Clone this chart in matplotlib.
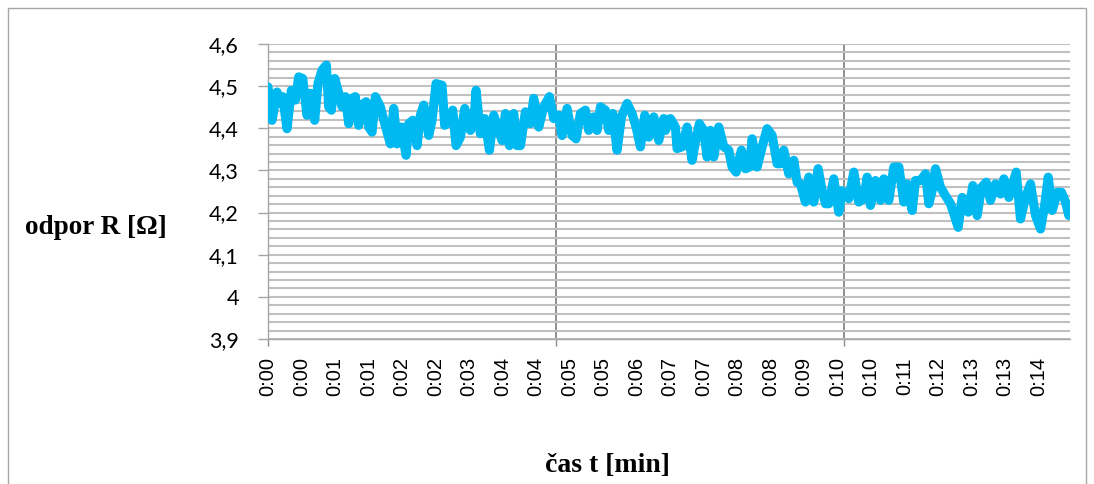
import matplotlib
matplotlib.use("Agg")
import matplotlib.pyplot as plt
import numpy as np
from matplotlib.patches import Rectangle

# ---------------- data ----------------
time_min = [
    0.000, 0.070, 0.156, 0.214, 0.255, 0.330, 0.405, 0.475, 0.533, 0.602,
    0.677, 0.735, 0.810, 0.868, 0.938, 1.013, 1.053, 1.100, 1.158, 1.215,
    1.285, 1.343, 1.401, 1.459, 1.516, 1.574, 1.632, 1.702, 1.748, 1.806,
    1.864, 1.950, 2.026, 2.124, 2.182, 2.240, 2.315, 2.396, 2.442, 2.512,
    2.587, 2.645, 2.703, 2.790, 2.847, 2.917, 3.021, 3.067, 3.137, 3.206,
    3.264, 3.339, 3.415,
    3.513, 3.571, 3.611, 3.686, 3.762, 3.843, 3.918, 4.005, 4.062, 4.120,
    4.190, 4.265, 4.323, 4.381, 4.468, 4.554, 4.612, 4.699, 4.786, 4.884,
    4.959, 5.046, 5.104, 5.191, 5.278, 5.347, 5.422, 5.509, 5.567, 5.654,
    5.712, 5.770, 5.856, 5.914, 5.984, 6.059, 6.134, 6.233, 6.319, 6.389,
    6.464, 6.539, 6.609, 6.696, 6.782, 6.869,
    6.898, 6.985, 7.071, 7.100, 7.187, 7.274, 7.361, 7.419, 7.488, 7.563,
    7.621, 7.679, 7.737, 7.824, 7.911, 7.997, 8.055, 8.125, 8.217, 8.287,
    8.356, 8.403, 8.489, 8.576, 8.663, 8.750, 8.837, 8.894, 8.952, 9.039,
    9.126, 9.184, 9.242, 9.328, 9.386, 9.473, 9.548, 9.618, 9.676, 9.734,
    9.820, 9.907, 9.965, 10.081, 10.168, 10.254, 10.341,
    10.399, 10.457, 10.544, 10.631, 10.689, 10.775, 10.862, 10.949, 11.036, 11.094,
    11.181, 11.238, 11.325, 11.412, 11.470, 11.528, 11.586, 11.672, 11.759, 11.846,
    11.904, 11.979, 12.049, 12.153, 12.234, 12.309, 12.384, 12.465, 12.540, 12.627,
    12.714, 12.772, 12.859, 12.986, 13.061, 13.148, 13.235, 13.322, 13.409, 13.484,
    13.542, 13.611, 13.698, 13.773, 13.843, 13.900,
]

resistance = [
    4.498, 4.419, 4.486, 4.459, 4.475, 4.399, 4.490, 4.467, 4.522, 4.518,
    4.431, 4.483, 4.419, 4.506, 4.538, 4.550, 4.451, 4.443, 4.518, 4.490,
    4.451, 4.475, 4.411, 4.471, 4.475, 4.407, 4.455, 4.463, 4.403, 4.391,
    4.475, 4.451, 4.411, 4.363, 4.447, 4.363, 4.403, 4.336, 4.411, 4.419,
    4.359, 4.431, 4.455, 4.383, 4.419, 4.506, 4.502, 4.407, 4.415, 4.443,
    4.359, 4.379, 4.447,
    4.395, 4.411, 4.490, 4.387, 4.423, 4.348, 4.431, 4.395, 4.371, 4.435,
    4.359, 4.435, 4.359, 4.359, 4.439, 4.411, 4.471, 4.403, 4.451, 4.475,
    4.423, 4.431, 4.383, 4.447, 4.383, 4.375, 4.435, 4.443, 4.395, 4.427,
    4.395, 4.451, 4.443, 4.395, 4.435, 4.348, 4.427, 4.459, 4.435, 4.403,
    4.356, 4.431, 4.379, 4.427, 4.371, 4.423,
    4.395, 4.423, 4.403, 4.352, 4.356, 4.403, 4.324, 4.368, 4.411, 4.395,
    4.332, 4.395, 4.332, 4.403, 4.356, 4.348, 4.308, 4.296, 4.348, 4.304,
    4.308, 4.375, 4.308, 4.356, 4.399, 4.383, 4.316, 4.316, 4.348, 4.292,
    4.324, 4.272, 4.268, 4.225, 4.284, 4.225, 4.304, 4.252, 4.221, 4.221,
    4.280, 4.201, 4.252, 4.233, 4.296, 4.225, 4.233,
    4.284, 4.217, 4.276, 4.229, 4.280, 4.229, 4.308, 4.308, 4.225, 4.268,
    4.205, 4.276, 4.276, 4.292, 4.221, 4.252, 4.304, 4.260, 4.240, 4.221,
    4.197, 4.165, 4.236, 4.201, 4.264, 4.193, 4.260, 4.272, 4.229, 4.268,
    4.244, 4.280, 4.236, 4.296, 4.185, 4.236, 4.268, 4.193, 4.161, 4.221,
    4.284, 4.205, 4.248, 4.248, 4.225, 4.193,
]

x_labels = ['0:00', '0:00', '0:01', '0:01', '0:02', '0:02', '0:03', '0:04',
            '0:04', '0:05', '0:05', '0:06', '0:07', '0:07', '0:08', '0:08',
            '0:09', '0:10', '0:10', '0:11', '0:12', '0:13', '0:13', '0:14']
y_ticks = [3.9, 4.0, 4.1, 4.2, 4.3, 4.4, 4.5, 4.6]
y_labels = ['3,9', '4', '4,1', '4,2', '4,3', '4,4', '4,5', '4,6']
x_major = [0, 5, 10]

# ---------------- figure ----------------
W, H = 1094, 484
fig = plt.figure(figsize=(W / 100, H / 100), dpi=100)
fig.patch.set_facecolor('white')

ax = fig.add_axes([268 / W, 1 - 339 / H, (1070 - 268) / W, (339 - 44) / H])
ax.set_axisbelow(True)
ax.xaxis.remove_overlapping_locs = False

ax.plot(time_min, resistance, color='#00B9F1', lw=6.6,
        solid_joinstyle='round', solid_capstyle='round', zorder=3)

ax.set_xlim(0, 13.92)
ax.set_ylim(3.9, 4.6)

# y axis
ax.set_yticks(y_ticks, labels=y_labels)
ax.set_yticks(np.arange(3.9, 4.6001, 0.02), minor=True)
ax.yaxis.grid(True, which='both', color='#C0C0C0', lw=1.5)
ax.tick_params(axis='y', which='major', length=7, width=1, color='#A6A6A6',
               pad=14, labelsize=15.5, labelcolor='black')
ax.tick_params(axis='y', which='minor', length=0)
for t in ax.get_yticklabels():
    t.set_fontfamily('Lato')

# x axis
label_step = 5 / 8.6
ax.set_xticks(x_major, labels=['', '', ''])
ax.set_xticks(np.arange(len(x_labels)) * label_step, labels=x_labels, minor=True)
ax.xaxis.grid(True, which='major', color='#8E8E8E', lw=1.4)
ax.tick_params(axis='x', which='major', length=5, width=1, color='#8E8E8E')
ax.tick_params(axis='x', which='minor', length=0, pad=13, labelsize=14.5,
               labelrotation=90)
for t in ax.get_xticklabels(minor=True):
    t.set_fontfamily('Liberation Sans')

for s in ['top', 'right']:
    ax.spines[s].set_visible(False)
for s in ['left', 'bottom']:
    ax.spines[s].set_color('#A6A6A6')
    ax.spines[s].set_linewidth(1)

# axis titles
fig.text(96 / W, 1 - 228 / H, 'odpor R [Ω]', ha='center', va='center',
         fontfamily='Liberation Serif', fontweight='bold', fontsize=19.5)
fig.text(607 / W, 1 - 466 / H, 'čas t [min]', ha='center', va='center',
         fontfamily='Liberation Serif', fontweight='bold', fontsize=20)

# chart border
fig.add_artist(Rectangle((8 / W, -0.1), (1086 - 8) / W, 1 - 8 / H + 0.1,
                         transform=fig.transFigure, fill=False,
                         ec='#A6A6A6', lw=1))

fig.savefig('out.png', dpi=100)
